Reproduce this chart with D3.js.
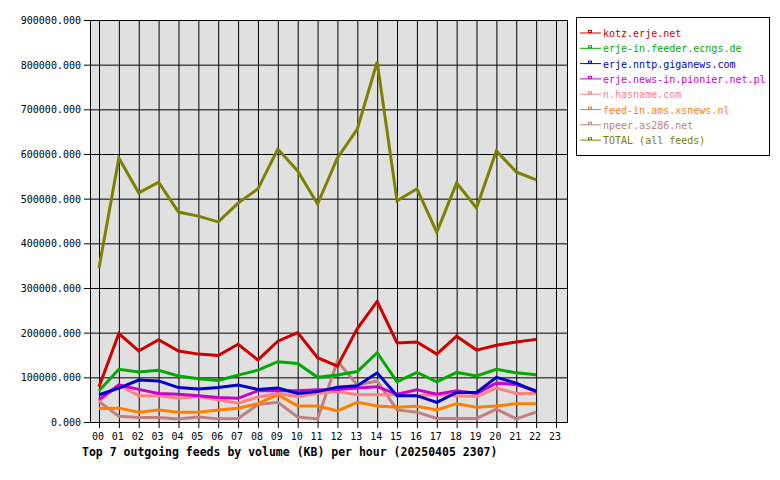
<!DOCTYPE html><html><head><meta charset="utf-8">
<script src="https://cdn.jsdelivr.net/npm/d3@7"></script>
<style>body{margin:0;background:#fff}</style></head><body><svg id="c" width="780" height="480"></svg>
<script>
const hours=["00","01","02","03","04","05","06","07","08","09","10","11","12","13","14","15","16","17","18","19","20","21","22","23"];
const seriesNames=["kotz.erje.net","erje-in.feeder.ecngs.de","erje.nntp.giganews.com","erje.news-in.pionier.net.pl","n.hasname.com","feed-in.ams.xsnews.nl","npeer.as286.net","TOTAL (all feeds)"];
const seriesColors=["#cc0000","#00aa00","#0000cc","#cc00cc","#ff8080","#ff8000","#c08080","#808000"];
const kotz=[79,198,159,184,159,152,149,174,139,181,200,144,125,209,270,177,179,152,192,161,172,179,185];
const ecngs=[70,118,112,116,103,97,93,105,116,135,131,100,105,113,155,90,111,90,111,103,118,110,106];
const giganews=[61,76,94,92,77,74,77,83,73,76,64,68,78,81,110,59,59,44,66,66,100,87,68];
const pionier=[50,83,73,64,62,59,55,53,70,70,70,72,73,76,79,62,72,62,70,64,87,84,70];
const hasname=[46,83,59,59,53,57,50,42,56,64,57,64,68,61,61,61,59,61,59,57,76,64,64];
const xsnews=[30,31,22,27,22,22,27,31,41,61,36,36,25,44,36,33,35,27,41,33,36,41,41];
const as286=[46,13,10,10,7,11,7,8,39,44,11,7,136,83,92,27,22,8,8,8,29,7,22];
const total=[345,591,513,537,470,461,448,490,522,611,562,488,591,656,806,495,522,425,535,479,607,560,542];
const yTicks=[0,100000,200000,300000,400000,500000,600000,700000,800000,900000];
const data=[kotz,ecngs,giganews,pionier,hasname,xsnews,as286,total];
const svg=d3.select("#c");
const font="DejaVu Sans Mono";
const x=d3.scaleLinear().domain([0,23]).range([99,556]);
const y=d3.scaleLinear().domain([0,900000]).range([422,20]);
svg.append("rect").attr("x",90).attr("y",20).attr("width",478).attr("height",402).attr("fill","#e0e0e0");
svg.selectAll(".hg").data(yTicks).enter().append("line").attr("x1",90).attr("x2",568).attr("y1",d=>y(d)+.5).attr("y2",d=>y(d)+.5).attr("stroke","#000");
svg.selectAll(".vg").data(hours).enter().append("line").attr("x1",(d,i)=>x(i)+.5).attr("x2",(d,i)=>x(i)+.5).attr("y1",20).attr("y2",428).attr("stroke","#000");
svg.append("rect").attr("x",90.5).attr("y",20.5).attr("width",477).attr("height",402).attr("fill","none").attr("stroke","#000");
svg.selectAll(".yt").data(yTicks).enter().append("line").attr("x1",84).attr("x2",90).attr("y1",d=>y(d)+.5).attr("y2",d=>y(d)+.5).attr("stroke","#000");
svg.selectAll(".yl").data(yTicks).enter().append("text").attr("x",81).attr("y",d=>y(d)+4).attr("text-anchor","end").attr("font-family",font).attr("font-size",10).text(d=>d3.format(".3f")(d));
svg.selectAll(".xl").data(hours).enter().append("text").attr("x",(d,i)=>x(i)-1).attr("y",440).attr("text-anchor","middle").attr("font-family",font).attr("font-size",10).text(d=>d);
const line=d3.line().x((d,i)=>x(i)).y(d=>y(d*1000));
[6,5,4,3,2,1,0,7].forEach(k=>{svg.append("path").attr("d",line(data[k])).attr("fill","none").attr("stroke",seriesColors[k]).attr("stroke-width",3);});
svg.append("text").attr("x",82).attr("y",456).attr("font-family",font).attr("font-size",11.5).attr("font-weight","bold").text("Top 7 outgoing feeds by volume (KB) per hour (20250405 2307)");
const lg=svg.append("g");
lg.append("rect").attr("x",576.5).attr("y",17.5).attr("width",193).attr("height",138).attr("fill","#fff").attr("stroke","#000");
seriesNames.forEach((n,i)=>{const yy=33+i*15.3;
 lg.append("line").attr("x1",580).attr("x2",601).attr("y1",yy).attr("y2",yy).attr("stroke",seriesColors[i]);
 lg.append("rect").attr("x",588.5).attr("y",yy-2.5).attr("width",3).attr("height",2).attr("fill","none").attr("stroke",seriesColors[i]).attr("stroke-width",1);
 lg.append("text").attr("x",603).attr("y",yy+4).attr("font-family",font).attr("font-size",10).attr("fill",seriesColors[i]).text(n);});
</script></body></html>
